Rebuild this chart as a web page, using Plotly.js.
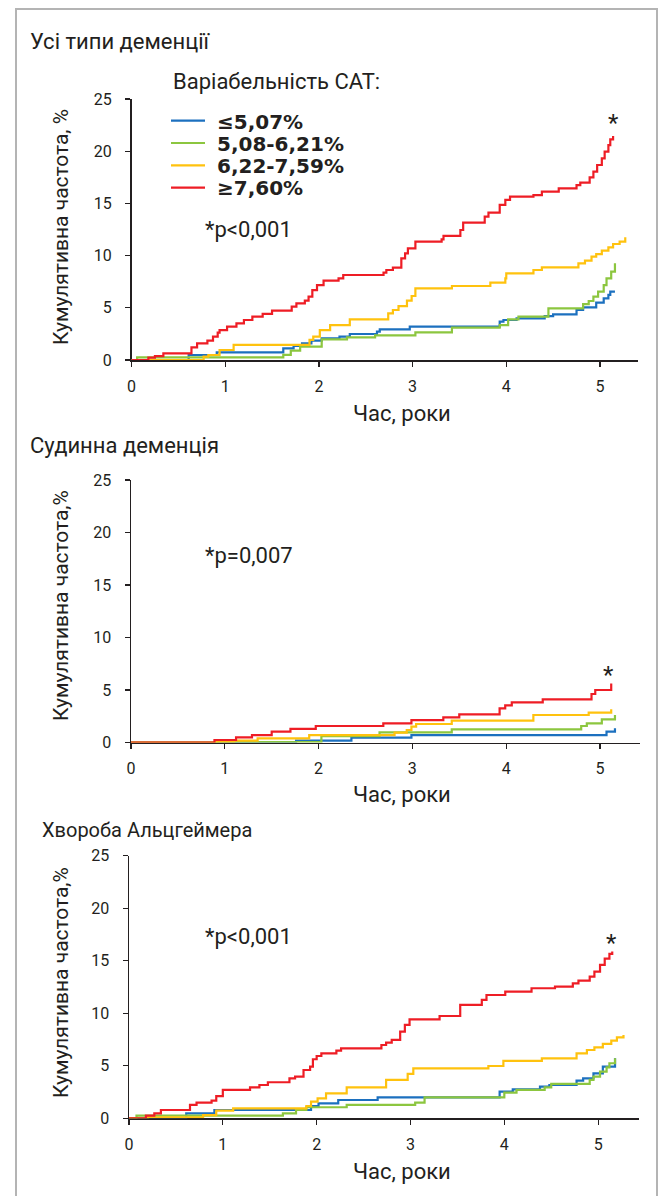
<!DOCTYPE html>
<html>
<head>
<meta charset="utf-8">
<script src="https://cdn.plot.ly/plotly-3.0.1.min.js"></script>
<style>
html,body{margin:0;padding:0;background:#fff;}
#chart{width:663px;height:1196px;}
</style>
</head>
<body>
<div id="chart"></div>
<script>
// ---------- DATA ----------
const seriesNames = ['≤5,07%', '5,08-6,21%', '6,22-7,59%', '≥7,60%'];
const seriesColors = ['#1c70bf', '#8cc63f', '#ffc20e', '#ee1d25'];
const panelTitles = ['Усі типи деменції', 'Судинна деменція', 'Хвороба Альцгеймера'];
const pValues = ['*p<0,001', '*p=0,007', '*p<0,001'];
const yTitles = ['Кумулятивна частота, %', 'Кумулятивна частота,%', 'Кумулятивна частота,%'];
const xTitle = 'Час, роки';
const legendTitle = 'Варіабельність САТ:';
const yTickVals = [0, 5, 10, 15, 20, 25];
const xTickVals = [0, 1, 2, 3, 4, 5];

// Panel 1: all dementia types
const all_blue_x = [0, 0.61, 0.91, 1.62, 1.73, 1.82, 1.92, 2.03, 2.22, 2.33, 2.62, 2.65, 2.97, 3.93, 3.97, 4.11, 4.41, 4.50, 4.75, 4.82, 4.96, 5.04, 5.09, 5.11, 5.16];
const all_blue_y = [0, 0.48, 0.73, 1.12, 1.34, 1.60, 1.85, 2.07, 2.23, 2.49, 2.71, 2.94, 3.19, 3.67, 3.83, 3.99, 4.21, 4.37, 4.79, 5.04, 5.49, 5.91, 6.23, 6.54, 6.54];
const all_green_x = [0, 0.06, 1.62, 1.70, 1.80, 2.03, 2.30, 2.60, 3.03, 3.42, 3.93, 4.02, 4.13, 4.45, 4.82, 4.88, 4.93, 4.98, 5.04, 5.07, 5.12, 5.16];
const all_green_y = [0, 0.25, 0.50, 0.90, 1.28, 1.98, 2.17, 2.35, 2.65, 3.10, 3.35, 3.90, 4.15, 4.95, 5.36, 5.65, 6.07, 6.55, 7.18, 7.82, 8.46, 9.26];
const all_yellow_x = [0, 0.77, 0.82, 0.94, 1.09, 1.90, 1.94, 2.01, 2.12, 2.33, 2.74, 2.79, 2.85, 2.94, 2.99, 3.03, 3.42, 3.83, 3.99, 4.00, 4.29, 4.38, 4.77, 4.84, 4.91, 4.96, 5.02, 5.09, 5.14, 5.21, 5.27];
const all_yellow_y = [0, 0.32, 0.48, 0.96, 1.44, 1.92, 2.23, 2.87, 3.35, 3.90, 4.47, 4.79, 5.17, 5.68, 6.13, 6.86, 7.09, 7.41, 7.82, 8.30, 8.62, 8.88, 9.26, 9.51, 9.90, 10.15, 10.47, 10.79, 11.11, 11.33, 11.75];
const all_red_x = [0, 0.18, 0.25, 0.34, 0.64, 0.70, 0.81, 0.87, 0.92, 0.94, 1.02, 1.12, 1.20, 1.29, 1.40, 1.50, 1.71, 1.76, 1.85, 1.89, 1.93, 1.98, 2.05, 2.21, 2.26, 2.69, 2.72, 2.79, 2.88, 2.92, 2.95, 3.03, 3.31, 3.33, 3.51, 3.54, 3.77, 3.81, 3.93, 3.99, 4.04, 4.29, 4.38, 4.56, 4.75, 4.79, 4.89, 4.93, 4.97, 5.02, 5.05, 5.09, 5.11, 5.14];
const all_red_y = [0, 0.22, 0.38, 0.64, 1.21, 1.60, 1.85, 2.23, 2.62, 2.87, 3.19, 3.51, 3.83, 4.15, 4.41, 4.73, 5.11, 5.43, 5.68, 6.07, 6.70, 7.18, 7.60, 7.82, 8.14, 8.37, 8.62, 8.84, 9.74, 10.22, 10.70, 11.33, 11.56, 11.88, 12.45, 13.15, 13.73, 14.11, 14.85, 15.33, 15.65, 15.80, 16.12, 16.44, 16.76, 16.99, 17.50, 18.04, 18.68, 19.32, 19.96, 20.59, 21.14, 21.46];

// Panel 2: vascular dementia
const vas_blue_x = [0, 1.76, 2.35, 2.99, 5.07, 5.16];
const vas_blue_y = [0, 0.17, 0.46, 0.71, 1.03, 1.35];
const vas_green_x = [0, 1.09, 2.03, 2.65, 3.42, 4.80, 4.86, 5.02, 5.16];
const vas_green_y = [0, 0.05, 0.60, 0.97, 1.25, 1.57, 1.83, 2.21, 2.62];
const vas_yellow_x = [0, 0.91, 1.10, 1.35, 1.90, 2.81, 2.94, 2.99, 3.04, 3.42, 4.29, 4.88, 5.12];
const vas_yellow_y = [0, 0.08, 0.17, 0.40, 0.71, 0.94, 1.19, 1.51, 1.76, 2.08, 2.62, 2.84, 3.16];
const vas_red_x = [0, 0.89, 1.12, 1.29, 1.50, 1.70, 1.97, 2.69, 2.99, 3.33, 3.50, 3.93, 3.99, 4.06, 4.39, 4.91, 4.95, 5.12];
const vas_red_y = [0, 0.24, 0.49, 0.71, 1.03, 1.29, 1.57, 1.83, 2.14, 2.40, 2.68, 3.25, 3.54, 3.83, 4.11, 4.62, 5.00, 5.63];

// Panel 3: Alzheimer's disease
const alz_blue_x = [0, 0.61, 0.91, 1.94, 2.02, 2.23, 2.65, 3.95, 4.09, 4.38, 4.48, 4.77, 4.84, 4.95, 5.05, 5.18];
const alz_blue_y = [0, 0.47, 0.79, 1.17, 1.43, 1.74, 2.00, 2.54, 2.76, 3.01, 3.17, 3.58, 3.81, 4.28, 4.92, 5.71];
const alz_green_x = [0, 0.08, 1.64, 1.78, 1.89, 2.32, 3.05, 3.15, 4.00, 4.13, 4.43, 4.50, 4.91, 4.95, 5.02, 5.09, 5.12, 5.18];
const alz_green_y = [0, 0.25, 0.47, 0.79, 1.05, 1.27, 1.49, 2.00, 2.44, 2.70, 2.95, 3.27, 3.65, 3.96, 4.44, 4.85, 5.24, 5.71];
const alz_yellow_x = [0, 0.20, 0.79, 0.93, 1.11, 1.89, 1.94, 2.01, 2.10, 2.32, 2.74, 2.97, 3.03, 3.83, 3.99, 4.40, 4.77, 4.88, 4.96, 5.05, 5.14, 5.20, 5.27];
const alz_yellow_y = [0, 0.10, 0.31, 0.73, 0.95, 1.17, 1.58, 1.90, 2.38, 2.95, 3.65, 4.22, 4.76, 4.98, 5.46, 5.71, 6.19, 6.50, 6.76, 7.08, 7.39, 7.71, 7.93];
const alz_red_x = [0, 0.18, 0.27, 0.34, 0.65, 0.72, 0.88, 0.93, 1.00, 1.29, 1.39, 1.48, 1.71, 1.77, 1.86, 1.93, 1.96, 2.00, 2.05, 2.21, 2.26, 2.69, 2.74, 2.80, 2.89, 2.94, 2.99, 3.31, 3.53, 3.76, 3.81, 4.01, 4.29, 4.54, 4.73, 4.79, 4.91, 4.96, 5.02, 5.07, 5.12, 5.15];
const alz_red_y = [0, 0.25, 0.47, 0.79, 1.27, 1.49, 1.68, 2.12, 2.70, 2.95, 3.17, 3.43, 3.81, 3.96, 4.60, 4.92, 5.62, 5.93, 6.19, 6.44, 6.66, 6.98, 7.20, 7.46, 8.25, 8.89, 9.42, 9.74, 10.79, 11.27, 11.74, 12.06, 12.38, 12.54, 12.85, 13.10, 13.49, 13.97, 14.60, 15.20, 15.65, 15.87];

// asterisk marks (data coordinates)
const starX = [5.14, 5.09, 5.14];
const starY = [22.7, 6.4, 16.7];

const panels = [
  {xs:[all_blue_x, all_green_x, all_yellow_x, all_red_x], ys:[all_blue_y, all_green_y, all_yellow_y, all_red_y]},
  {xs:[vas_blue_x, vas_green_x, vas_yellow_x, vas_red_x], ys:[vas_blue_y, vas_green_y, vas_yellow_y, vas_red_y]},
  {xs:[alz_blue_x, alz_green_x, alz_yellow_x, alz_red_x], ys:[alz_blue_y, alz_green_y, alz_yellow_y, alz_red_y]}
];

// ---------- LAYOUT GEOMETRY (pixels) ----------
const W = 663, H = 1196;
const geo = [
  {x0:131.5, x1:638, top:99, bot:360, xmax:5.406, titleY:42, titleX:28, titleSize:22, pY:230, yTitleY:227, xTitleY:413},
  {x0:131, x1:640, top:480, bot:742.5, xmax:5.427, titleY:445, titleX:28, titleSize:22, pY:555, yTitleY:606, xTitleY:795},
  {x0:129, x1:638.5, top:855.7, bot:1118.3, xmax:5.43, titleY:830, titleX:40, titleSize:20, pY:936, yTitleY:983, xTitleY:1171}
];
const px = v => v / W;
const py = v => 1 - v / H;

const ink = '#231f20';
const FONT = 'Roboto, "Open Sans", sans-serif';

const traces = [];
panels.forEach((p, i) => {
  const sfx = i === 0 ? '' : String(i + 1);
  for (let s = 0; s < 4; s++) {
    traces.push({
      type: 'scatter', mode: 'lines',
      x: p.xs[s], y: p.ys[s],
      xaxis: 'x' + sfx, yaxis: 'y' + sfx,
      line: {shape: 'hv', color: seriesColors[s], width: 2.2},
      name: '\u00a0' + seriesNames[s],
      showlegend: i === 0,
      legend: s === 0 ? 'legend' : 'legend' + (s + 1),
      hoverinfo: 'skip'
    });
  }
});

const layout = {
  width: W, height: H,
  margin: {l:0, r:0, t:0, b:0},
  paper_bgcolor: '#fff', plot_bgcolor: 'rgba(0,0,0,0)',
  font: {family: FONT, color: ink, size: 16},
  annotations: [],
  shapes: [{
    type: 'rect', xref: 'paper', yref: 'paper',
    x0: px(16), x1: px(657), y0: -0.02, y1: py(9),
    line: {color: '#b4b4b4', width: 2}, layer: 'below'
  }]
};

const legendRowsY = [120.7, 143, 165.3, 187.6];
for (let s = 0; s < 4; s++) {
  const key = s === 0 ? 'legend' : 'legend' + (s + 1);
  layout[key] = {
    x: px(166), y: py(legendRowsY[s]), xanchor: 'left', yanchor: 'middle',
    bgcolor: 'rgba(0,0,0,0)', borderwidth: 0,
    font: {family: '"DejaVu Sans", sans-serif', size: 20, weight: 'bold', color: ink},
    itemwidth: 34, tracegroupgap: 0
  };
}

geo.forEach((g, i) => {
  const sfx = i === 0 ? '' : String(i + 1);
  layout['xaxis' + sfx] = {
    domain: [px(g.x0), px(g.x1)], range: [0, g.xmax],
    anchor: 'y' + sfx, showgrid: false, zeroline: false,
    showline: true, linecolor: ink, linewidth: 1.5,
    ticks: 'outside', ticklen: 5, tickwidth: 1.3, tickcolor: ink,
    tickvals: xTickVals, ticktext: xTickVals.map(String),
    ticklabelstandoff: 6,
    tickfont: {family: FONT, size: 16, color: ink},
    layer: 'below traces', fixedrange: true
  };
  layout['yaxis' + sfx] = {
    domain: [py(g.bot), py(g.top)], range: [0, 25],
    anchor: 'x' + sfx, showgrid: false, zeroline: false,
    showline: true, linecolor: ink, linewidth: 1.5,
    ticks: 'outside', ticklen: 5, tickwidth: 1.3, tickcolor: ink,
    tickvals: yTickVals, ticktext: yTickVals.map(String),
    ticklabelstandoff: 10,
    tickfont: {family: FONT, size: 16, color: ink},
    layer: 'below traces', fixedrange: true
  };
  layout.annotations.push({xref:'paper', yref:'paper', x: px(g.titleX), y: py(g.titleY), xanchor:'left', yanchor:'middle',
    text: panelTitles[i], showarrow:false, font:{family:FONT, size:g.titleSize, color:ink}});
  layout.annotations.push({xref:'paper', yref:'paper', x: px(203), y: py(g.pY), xanchor:'left', yanchor:'middle',
    text: pValues[i], showarrow:false, font:{family:FONT, size:22, color:ink}});
  layout.annotations.push({xref:'paper', yref:'paper', x: px(61), y: py(g.yTitleY), xanchor:'center', yanchor:'middle',
    text: yTitles[i], textangle: -90, showarrow:false, font:{family:FONT, size:21, color:ink}});
  layout.annotations.push({xref:'paper', yref:'paper', x: px(402), y: py(g.xTitleY), xanchor:'center', yanchor:'middle',
    text: xTitle, showarrow:false, font:{family:FONT, size:22, color:ink}});
  layout.annotations.push({xref:'x' + sfx, yref:'y' + sfx, x: starX[i], y: starY[i], xanchor:'center', yanchor:'middle',
    text: '*', showarrow:false, font:{family:FONT, size:24, color:ink}});
});
layout.annotations.push({xref:'paper', yref:'paper', x: px(171), y: py(82), xanchor:'left', yanchor:'middle',
  text: legendTitle, showarrow:false, font:{family:FONT, size:22, color:ink}});

Plotly.newPlot('chart', traces, layout, {staticPlot: true, displayModeBar: false});
</script>
</body>
</html>
